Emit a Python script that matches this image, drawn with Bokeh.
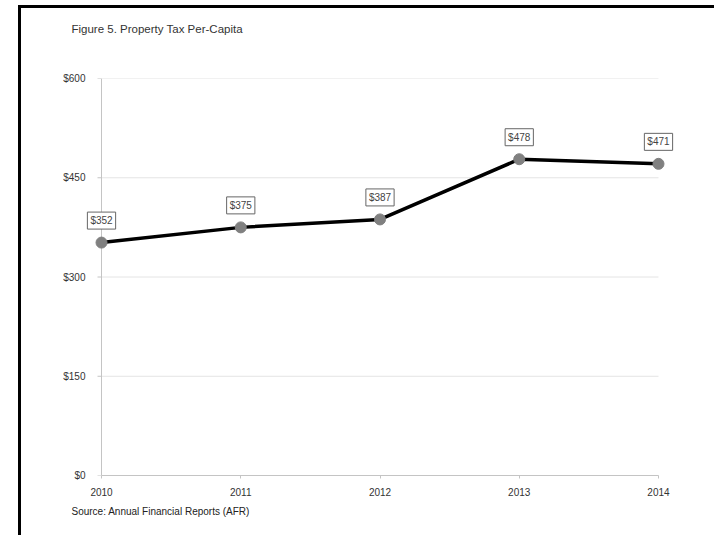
import math
from bokeh.plotting import figure
from bokeh.models import ColumnDataSource, Label, FixedTicker, Title, Range1d
from bokeh.embed import file_html
from bokeh.resources import INLINE

years = [2010, 2011, 2012, 2013, 2014]
values = [352, 375, 387, 478, 471]
value_labels = ["$352", "$375", "$387", "$478", "$471"]
y_ticks = [0, 150, 300, 450, 600]
y_tick_labels = ["$0", "$150", "$300", "$450", "$600"]
x_tick_labels = ["2010", "2011", "2012", "2013", "2014"]
title_text = "Figure 5. Property Tax Per-Capita"
source_text = "Source: Annual Financial Reports (AFR)"

FONT = "Liberation Sans"
pad = 0.115

p = figure(
    frame_width=589, frame_height=397,
    min_border_left=64, min_border_top=70, min_border_right=40, min_border_bottom=60,
    x_range=Range1d(years[0] - pad, years[-1] + pad),
    y_range=Range1d(y_ticks[0], y_ticks[-1]),
    output_backend="svg", toolbar_location=None,
)
p.margin = (5, 0, 0, 18)
p.styles = {"border-left": "3px solid black", "border-top": "3px solid black"}
p.outline_line_color = None
p.background_fill_color = "white"
p.border_fill_color = "white"

# grid lines drawn only across the data span
p.xgrid.visible = False
p.ygrid.visible = False
p.segment(x0=[years[0]] * len(y_ticks), x1=[years[-1]] * len(y_ticks),
          y0=y_ticks, y1=y_ticks, line_color="#e4e4e4", line_width=1)

# vertical axis line at the first year, with short outward ticks
p.segment(x0=[years[0]], x1=[years[0]], y0=[y_ticks[0]], y1=[y_ticks[-1]],
          line_color="#c4c4c4", line_width=1)
p.ray(x=[years[0]] * len(y_ticks), y=y_ticks, length=4, length_units="screen",
      angle=math.pi, line_color="#c4c4c4", line_width=1)

# axes
p.xaxis.ticker = FixedTicker(ticks=years)
p.xaxis.major_label_overrides = {y: l for y, l in zip(years, x_tick_labels)}
p.xaxis.bounds = (years[0], years[-1])
p.yaxis.ticker = FixedTicker(ticks=y_ticks)
p.yaxis.major_label_overrides = {t: l for t, l in zip(y_ticks, y_tick_labels)}
for ax in (p.xaxis[0], p.yaxis[0]):
    ax.axis_line_color = "#c4c4c4"
    ax.major_tick_line_color = "#c4c4c4"
    ax.minor_tick_line_color = None
    ax.major_label_text_font = FONT
    ax.major_label_text_font_size = "10px"
    ax.major_label_text_color = "#333333"
p.xaxis.major_tick_in = 0
p.xaxis.major_tick_out = 3
p.xaxis.major_label_standoff = 9
p.yaxis.axis_line_color = None
p.yaxis.major_tick_line_color = None
p.yaxis.major_tick_in = 0
p.yaxis.major_tick_out = 0
p.yaxis.major_label_standoff = 0

src = ColumnDataSource(dict(x=years, y=values))
p.line("x", "y", source=src, line_color="black", line_width=3.5)
p.scatter("x", "y", source=src, size=11, fill_color="#808080", line_color="#808080")

for xv, yv, lab in zip(years, values, value_labels):
    p.add_layout(Label(x=xv, y=yv, text=lab, y_offset=22,
                       text_align="center", text_baseline="middle",
                       text_font=FONT, text_font_size="10px", text_color="#444444",
                       background_fill_color="white", border_line_color="#666666",
                       border_line_width=1, padding=3))

# real title (outer), blank spacer title between it and the frame
p.title.text = title_text
p.title.align = "left"
p.title.offset = -14
p.title.text_font = FONT
p.title.text_font_size = "11.5px"
p.title.text_font_style = "normal"
p.title.text_color = "#333333"
p.title.standoff = 0

spacer = Title(text=" ", text_font=FONT, text_font_size="11.5px", standoff=30)
p.add_layout(spacer, "above")

s = Title(text=source_text, align="left", offset=-14, text_font=FONT,
          text_font_size="10px", text_font_style="normal", text_color="#222222",
          standoff=10)
p.add_layout(s, "below")

open("out.html", "w").write(file_html(p, INLINE))
